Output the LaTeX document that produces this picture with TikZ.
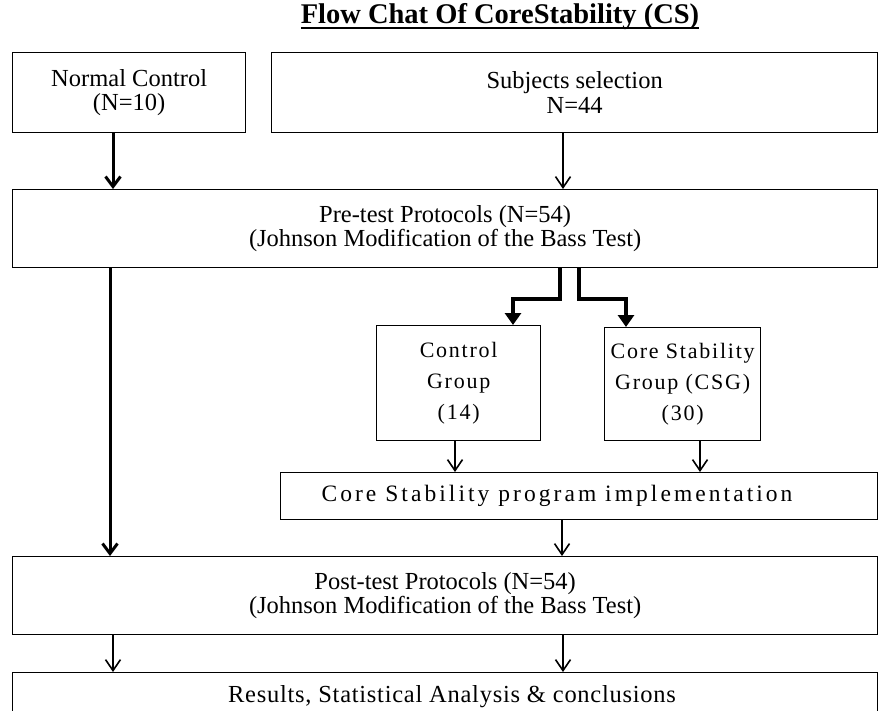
\documentclass[tikz,border=0pt]{standalone}
\usepackage{fontspec}
\setmainfont{Liberation Serif}
\newfontfamily\spacedfont[LetterSpace=8]{Liberation Serif}
\newfontfamily\widefont[LetterSpace=13]{Liberation Serif}
\newfontfamily\slightfont[LetterSpace=3]{Liberation Serif}
\usetikzlibrary{arrows.meta}
\newcommand\myul[1]{\setbox0\hbox{#1}\rlap{\rule[-6pt]{\wd0}{2pt}}\box0}
\begin{document}
\begin{tikzpicture}[x=1pt,y=-1pt,
  box/.style={draw, line width=1.3pt, inner sep=0pt, anchor=north west, align=center,
    font=\fontsize{24.5}{24.5}\selectfont},
  thinarr/.style={line width=1.6pt, -{Straight Barb[length=11pt,width=15pt,line width=1.6pt]}},
  thickarr/.style={line width=3pt, -{Straight Barb[length=10pt,width=15pt,line width=3pt]}},
  elbow/.style={line width=4pt, -{Triangle[length=12pt,width=16pt]}}]
\clip (0,0) rectangle (891,710);
\useasboundingbox (0,0) rectangle (891,710);
\fill[white] (0,0) rectangle (891,710);

\node[anchor=base, font=\fontsize{28.5}{30}\selectfont\bfseries] (title) at (500,23)
  {\myul{Flow Chat Of CoreStability (CS)}};

\node[box, minimum width=233pt, minimum height=80pt] (nc) at (12,52) {Normal Control\\(N=10)};
\node[box, minimum width=606pt, minimum height=80pt] (ss) at (271,52) {Subjects selection\\N=44};
\node[box, minimum width=865pt, minimum height=78pt] (pre) at (12,189)
  {Pre-test Protocols (N=54)\\(Johnson Modification of the Bass Test)};
\node[box, minimum width=164pt, minimum height=115pt, font=\fontsize{22}{31}\selectfont\spacedfont]
  (cg) at (376,325) {Control\\Group\\(14)};
\node[box, minimum width=156pt, minimum height=113pt, font=\fontsize{22}{31}\selectfont\spacedfont]
  (csg) at (604,327) {Core Stability\\Group (CSG)\\(30)};
\node[box, minimum width=597pt, minimum height=47pt] (impl) at (280,472) {};
\node[anchor=center, font=\fontsize{23.5}{25}\selectfont\widefont] (impltxt)
  at (557,0 |- impl.center) {Core Stability program implementation};
\node[box, minimum width=865pt, minimum height=78pt] (post) at (12,556)
  {Post-test Protocols (N=54)\\(Johnson Modification of the Bass Test)};
\node[box, minimum width=865pt, minimum height=60pt] (res) at (12,672) {};
\node[anchor=base, font=\fontsize{24.5}{25}\selectfont\slightfont] (restxt) at (res.north -| 452,0) [yshift=-30pt]
  {Results, Statistical Analysis \& conclusions};

\coordinate (xL) at (113,0);
\coordinate (xLL) at (110,0);
\coordinate (xM) at (563,0);
\coordinate (xM2) at (562,0);
\coordinate (xCG) at (455,0);
\coordinate (xCSG) at (700,0);
\coordinate (e1) at (560,270);
\coordinate (e1b) at (560,299);
\coordinate (e1c) at (513,299);
\coordinate (e2) at (579,270);
\coordinate (e2b) at (579,299);
\coordinate (e2c) at (626,299);

\draw[thickarr] (xL |- nc.south) -- (xL |- pre.north);
\draw[thinarr] (xM |- ss.south) -- (xM |- pre.north);
\draw[thickarr] (xLL |- pre.south) -- (xLL |- post.north);
\draw[elbow] (e1 |- pre.south) -- (e1b) -- (e1c) -- (e1c |- cg.north);
\draw[elbow] (e2 |- pre.south) -- (e2b) -- (e2c) -- (e2c |- csg.north);
\draw[thinarr] (xCG |- cg.south) -- (xCG |- impl.north);
\draw[thinarr] (xCSG |- csg.south) -- (xCSG |- impl.north);
\draw[thinarr] (xM2 |- impl.south) -- (xM2 |- post.north);
\draw[thinarr] (xL |- post.south) -- (xL |- res.north);
\draw[thinarr] (xM |- post.south) -- (xM |- res.north);
\end{tikzpicture}
\end{document}
